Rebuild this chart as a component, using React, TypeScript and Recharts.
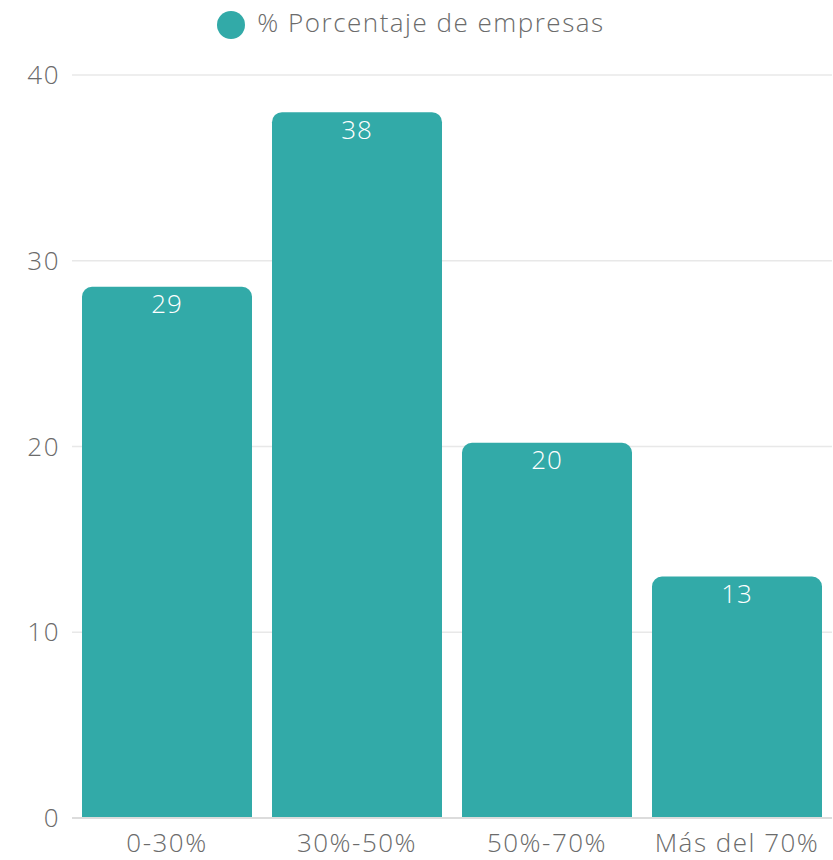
import { Bar, BarChart, CartesianGrid, LabelList, Legend, XAxis, YAxis } from "recharts";

const categories = ["0-30%", "30%-50%", "50%-70%", "Más del 70%"];
const porcentaje = [28.6, 38, 20.2, 13];
const yTicks = [0, 10, 20, 30, 40];

const data = categories.map((name, i) => ({ name, value: porcentaje[i] }));

const TEAL = "#32aaa8";
const FONT = "'Open Sans', sans-serif";
const textStyle = { fontSize: 26, fill: "#6b6b6b", fontFamily: FONT, fontWeight: 300, letterSpacing: 1.5 };

export default function App() {
    return (
        <div style={{ position: "absolute", left: 0, top: 0, fontFamily: FONT }}>
            <BarChart
                width={833}
                height={860}
                data={data}
                margin={{ top: 39, right: 1, left: 0, bottom: 0 }}
                barCategoryGap={10}
            >
                <CartesianGrid vertical={false} stroke="#e8e8e8" strokeWidth={1.5} />
                <XAxis
                    dataKey="name"
                    height={42}
                    tickLine={false}
                    axisLine={{ stroke: "#dcdcdc", strokeWidth: 2 }}
                    interval={0}
                    tick={{ ...textStyle, dy: 8 }}
                />
                <YAxis
                    width={72}
                    domain={[0, 40]}
                    ticks={yTicks}
                    tickLine={false}
                    axisLine={false}
                    tick={{ ...textStyle, dx: -4 }}
                />
                <Legend
                    verticalAlign="top"
                    align="center"
                    iconType="circle"
                    iconSize={28}
                    wrapperStyle={{ top: 4, fontSize: 26, fontFamily: FONT, fontWeight: 300, letterSpacing: 1.5 }}
                    formatter={(value) => <span style={{ color: "#6b6b6b", marginLeft: 8 }}>{value}</span>}
                />
                <Bar
                    dataKey="value"
                    name="% Porcentaje de empresas"
                    fill={TEAL}
                    radius={[10, 10, 0, 0]}
                    isAnimationActive={false}
                >
                    <LabelList
                        dataKey="value"
                        position="insideTop"
                        offset={8}
                        formatter={(v: any) => Math.round(Number(v))}
                        style={{ fill: "#ffffff", fontSize: 26, fontFamily: FONT, fontWeight: 300, letterSpacing: 1 }}
                    />
                </Bar>
            </BarChart>
        </div>
    );
}
